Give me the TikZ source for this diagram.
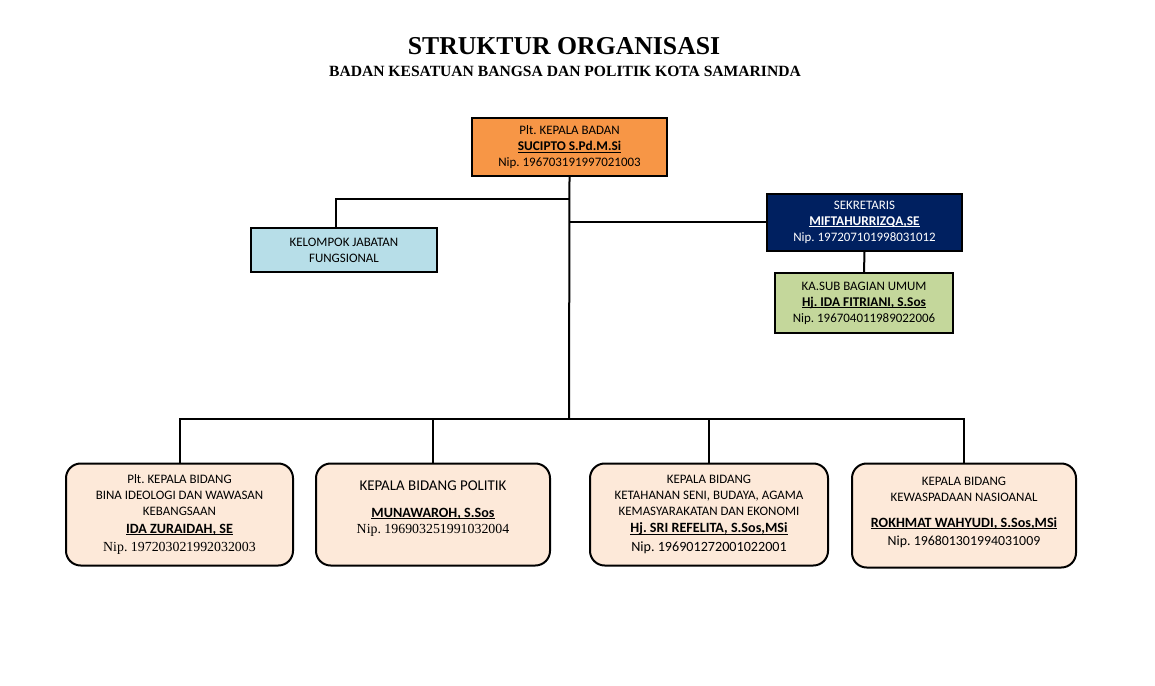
\documentclass[tikz,border=0pt]{standalone}
\usepackage{fontspec}
\setmainfont{Carlito}
\newfontfamily\timesf{Liberation Serif}
\definecolor{orangeb}{HTML}{F79646}
\definecolor{blueb}{HTML}{B7DEE8}
\definecolor{navyb}{HTML}{002060}
\definecolor{greenb}{HTML}{C4D79B}
\definecolor{peachb}{HTML}{FDE9D9}
\newcommand{\myul}[1]{\setbox0\hbox{#1}\rlap{\rule[-1.6pt]{\wd0}{0.8pt}}\box0}
\newcommand{\hdr}{\fontsize{9.7}{12}\selectfont\frenchspacing}
\newcommand{\nm}[1]{\myul{\fontsize{10}{12}\selectfont\bfseries #1}}
\newcommand{\nmb}[1]{\myul{\fontsize{10.6}{12}\selectfont\bfseries #1}}
\newcommand{\tnip}[1]{{\timesf\fontsize{10.4}{12}\selectfont #1}}
\begin{document}
\begin{tikzpicture}[x=0.75pt,y=-0.75pt,
  sqbox/.style={draw=black,line width=1.5pt,rectangle,align=center,inner sep=0pt,font=\hdr},
  rbox/.style={draw=black,line width=1.5pt,rectangle,rounded corners=11pt,fill=peachb,align=center,inner sep=0pt,font=\hdr},
  conn/.style={line width=1.5pt,black}]
\useasboundingbox (0,0) rectangle (1155,685);
\node[font=\timesf\bfseries\fontsize{19.3}{22}\selectfont] (title) at (564,46) {STRUKTUR ORGANISASI};
\node[font=\timesf\bfseries\fontsize{11.7}{13}\selectfont] (sub) at (565,71) {BADAN KESATUAN BANGSA DAN POLITIK KOTA SAMARINDA};

\node[sqbox,fill=orangeb,minimum width={195*0.75pt},minimum height={58*0.75pt}] (kepala) at (569.5,147)
  {Plt. KEPALA BADAN\\\nm{SUCIPTO S.Pd.M.Si}\\Nip. 196703191997021003};
\node[sqbox,fill=blueb,minimum width={186*0.75pt},minimum height={44*0.75pt}] (kel) at (344,250)
  {KELOMPOK JABATAN\\FUNGSIONAL};
\node[sqbox,fill=navyb,text=white,minimum width={195*0.75pt},minimum height={57*0.75pt}] (sekr) at (864.5,222)
  {SEKRETARIS\\\nm{MIFTAHURRIZQA,SE}\\Nip. 197207101998031012};
\node[sqbox,fill=greenb,minimum width={178*0.75pt},minimum height={60*0.75pt}] (kasub) at (864,303)
  {KA.SUB BAGIAN UMUM\\\nm{Hj. IDA FITRIANI, S.Sos}\\Nip. 196704011989022006};

\node[rbox,minimum width={227*0.75pt},minimum height={102*0.75pt}] (b1) at (179.5,514.5)
  {Plt. KEPALA BIDANG\\BINA IDEOLOGI DAN WAWASAN\\KEBANGSAAN\\[1pt]\nmb{IDA ZURAIDAH, SE}\\[1.5pt]\tnip{Nip. 197203021992032003}};
\node[rbox,minimum width={234*0.75pt},minimum height={102*0.75pt}] (b2) at (433,514.5)
  {{\fontsize{11.2}{13}\selectfont KEPALA BIDANG POLITIK}\\[8pt]\nmb{MUNAWAROH, S.Sos}\\\tnip{Nip. 196903251991032004}\\[-1pt]\mbox{}};
\node[rbox,minimum width={238*0.75pt},minimum height={102*0.75pt}] (b3) at (709,514.5)
  {KEPALA BIDANG\\KETAHANAN SENI, BUDAYA, AGAMA\\KEMASYARAKATAN DAN EKONOMI\\[1pt]\nmb{Hj. SRI REFELITA, S.Sos,MSi}\\[2pt]{\fontsize{10.6}{12}\selectfont Nip. 196901272001022001}};
\node[rbox,minimum width={224*0.75pt},minimum height={104*0.75pt}] (b4) at (964,515.5)
  {KEPALA BIDANG\\KEWASPADAAN NASIOANAL\\[7pt]\nmb{ROKHMAT WAHYUDI, S.Sos,MSi}\\[2pt]{\fontsize{10.4}{12}\selectfont Nip. 196801301994031009}\\[-6pt]\mbox{}};

\coordinate (jl) at (569,199);
\coordinate (jr) at (569,222);
\coordinate (bus) at (569,419);
\coordinate (kelt) at (336,228);
\draw[conn] (kepala.south) -- (bus);
\draw[conn] (jl) -| (kelt);
\draw[conn] (jr) -- (sekr.west);
\draw[conn] (sekr.south) -- (kasub.north);
\draw[conn] (b1.north) |- (bus) -| (b4.north);
\draw[conn] (b2.north) -- (b2.north |- bus);
\draw[conn] (b3.north) -- (b3.north |- bus);
\end{tikzpicture}
\end{document}
